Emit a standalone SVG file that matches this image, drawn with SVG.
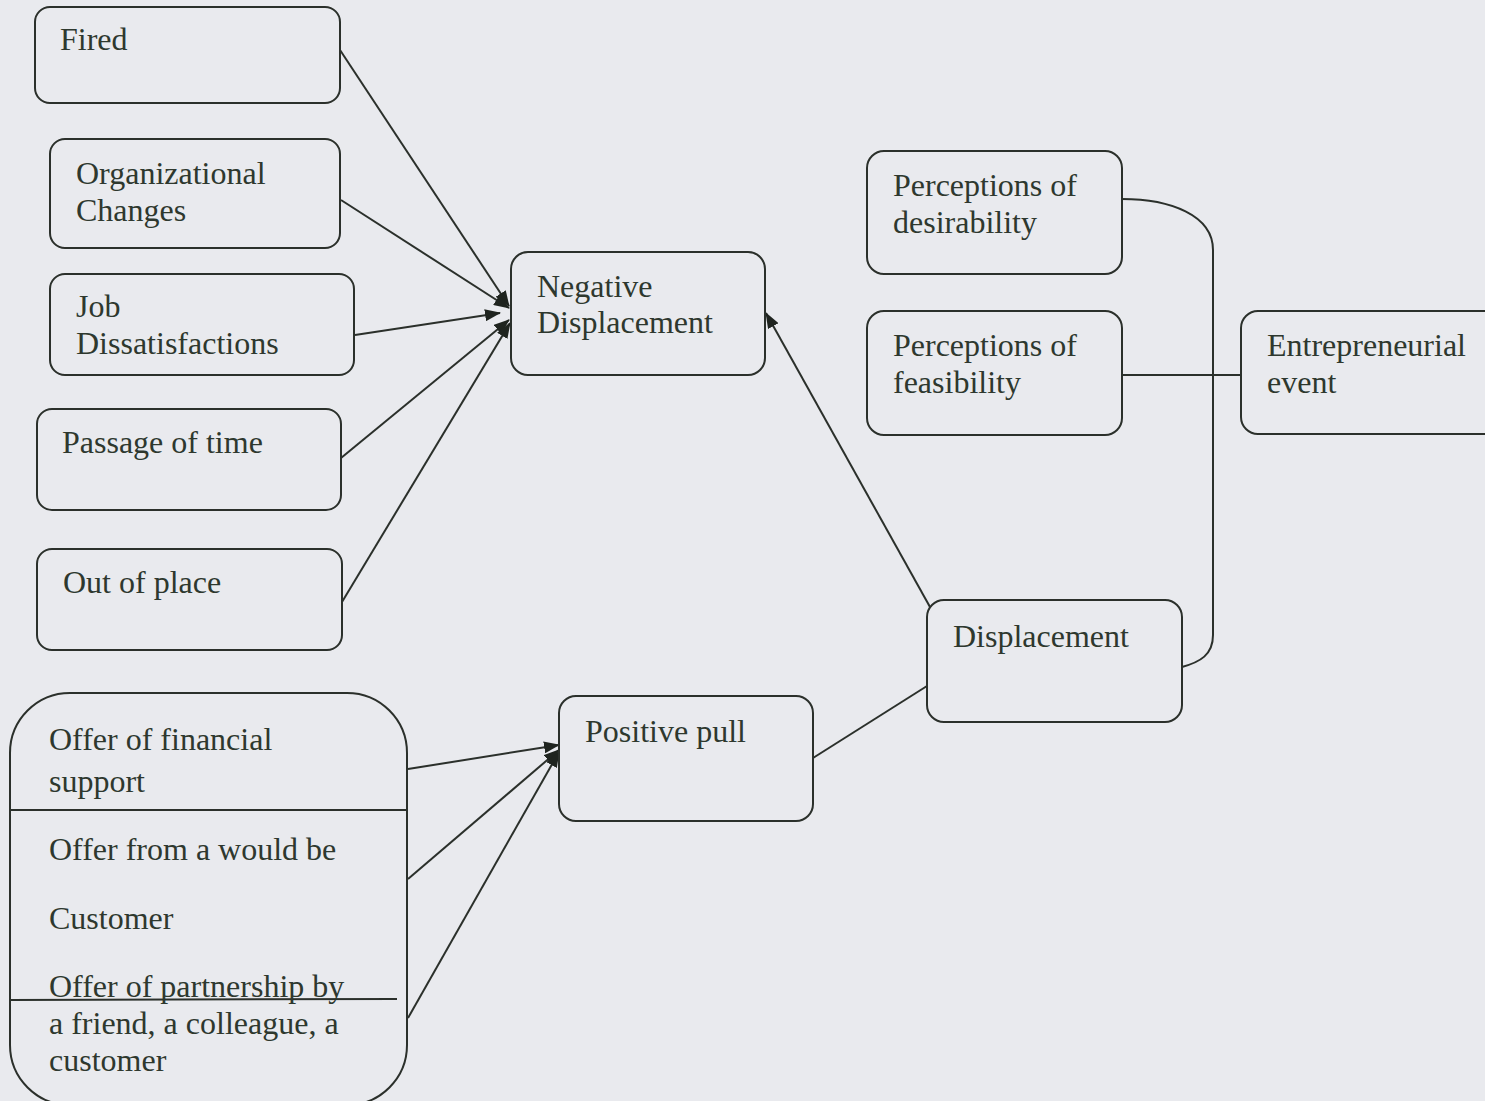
<svg xmlns="http://www.w3.org/2000/svg" width="1485" height="1101" viewBox="0 0 1485 1101">
  <defs>
    <style>
      .box { fill: none; stroke: #2b302b; stroke-width: 2; }
      .wire { fill: none; stroke: #2b302b; stroke-width: 2; }
      text { font-family: 'Liberation Serif', 'DejaVu Serif', Tinos, 'Times New Roman', Times, serif; font-size: 32px; fill: #2e382e; }
    </style>
    <marker id="arr" viewBox="0 0 16 12" refX="15" refY="6" markerWidth="16" markerHeight="12" markerUnits="userSpaceOnUse" orient="auto">
      <path d="M0,0 L16,6 L0,12 Z" fill="#1f241f"/>
    </marker>
  </defs>

  <rect width="1485" height="1101" fill="#e9eaee"/>

  <!-- connectors -->
  <g id="connectors">
    <line class="wire" x1="340" y1="50" x2="509" y2="306" marker-end="url(#arr)"/>
    <line class="wire" x1="341" y1="200" x2="509" y2="308" marker-end="url(#arr)"/>
    <line class="wire" x1="355" y1="335" x2="500" y2="313" marker-end="url(#arr)"/>
    <line class="wire" x1="341" y1="458" x2="509" y2="320" marker-end="url(#arr)"/>
    <line class="wire" x1="342" y1="602" x2="510" y2="323" marker-end="url(#arr)"/>
    <line class="wire" x1="930" y1="607" x2="766" y2="313" marker-end="url(#arr)"/>
    <line class="wire" x1="813" y1="758" x2="927" y2="686"/>
    <line class="wire" x1="408" y1="769" x2="559" y2="745" marker-end="url(#arr)"/>
    <line class="wire" x1="408" y1="879" x2="559" y2="750" marker-end="url(#arr)"/>
    <line class="wire" x1="408" y1="1018" x2="559" y2="752" marker-end="url(#arr)"/>
    <path class="wire" d="M1122,199 C1170,199 1213,215 1213,250 L1213,635 C1213,655 1200,662 1182,667"/>
    <line class="wire" x1="1122" y1="375" x2="1241" y2="375"/>
  </g>

  <g id="fired">
    <rect class="box" x="35" y="7" width="305" height="96" rx="15"/>
    <text x="60" y="50">Fired</text>
  </g>
  <g id="org-changes">
    <rect class="box" x="50" y="139" width="290" height="109" rx="15"/>
    <text x="76" y="184">Organizational</text>
    <text x="76" y="221">Changes</text>
  </g>
  <g id="job-dissatisfactions">
    <rect class="box" x="50" y="274" width="304" height="101" rx="15"/>
    <text x="76" y="317">Job</text>
    <text x="76" y="354">Dissatisfactions</text>
  </g>
  <g id="passage-of-time">
    <rect class="box" x="37" y="409" width="304" height="101" rx="15"/>
    <text x="62" y="453">Passage of time</text>
  </g>
  <g id="out-of-place">
    <rect class="box" x="37" y="549" width="305" height="101" rx="15"/>
    <text x="63" y="593">Out of place</text>
  </g>
  <g id="negative-displacement">
    <rect class="box" x="511" y="252" width="254" height="123" rx="17"/>
    <text x="537" y="297">Negative</text>
    <text x="537" y="333">Displacement</text>
  </g>
  <g id="desirability">
    <rect class="box" x="867" y="151" width="255" height="123" rx="17"/>
    <text x="893" y="196">Perceptions of</text>
    <text x="893" y="233">desirability</text>
  </g>
  <g id="feasibility">
    <rect class="box" x="867" y="311" width="255" height="124" rx="17"/>
    <text x="893" y="356">Perceptions of</text>
    <text x="893" y="393">feasibility</text>
  </g>
  <g id="entrepreneurial-event">
    <rect class="box" x="1241" y="311" width="270" height="123" rx="17"/>
    <text x="1267" y="356">Entrepreneurial</text>
    <text x="1267" y="393">event</text>
  </g>
  <g id="displacement">
    <rect class="box" x="927" y="600" width="255" height="122" rx="17"/>
    <text x="953" y="647">Displacement</text>
  </g>
  <g id="positive-pull">
    <rect class="box" x="559" y="696" width="254" height="125" rx="17"/>
    <text x="585" y="742">Positive pull</text>
  </g>
  <g id="pull-factors">
    <rect class="box" x="10" y="693" width="397" height="412" rx="60"/>
    <line class="wire" x1="10" y1="810" x2="407" y2="810"/>
    <line class="wire" x1="10" y1="1000" x2="397" y2="999"/>
    <text x="49" y="750">Offer of financial</text>
    <text x="49" y="792">support</text>
    <text x="49" y="860">Offer from a would be</text>
    <text x="49" y="929">Customer</text>
    <text x="49" y="997">Offer of partnership by</text>
    <text x="49" y="1034">a friend, a colleague, a</text>
    <text x="49" y="1071">customer</text>
  </g>
</svg>
